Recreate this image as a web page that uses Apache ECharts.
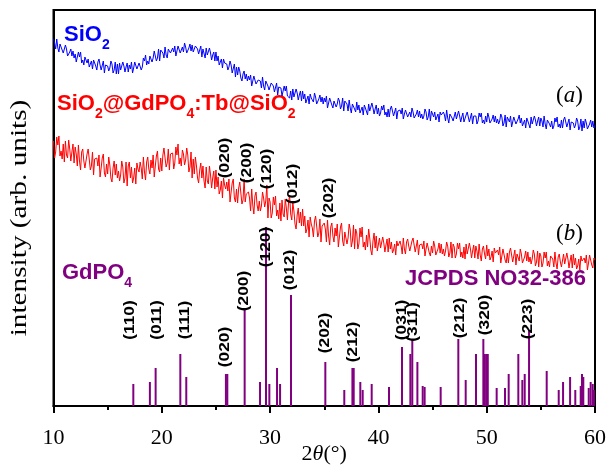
<!DOCTYPE html>
<html>
<head>
<meta charset="utf-8">
<script src="https://cdn.jsdelivr.net/npm/echarts@6/dist/echarts.min.js"></script>
<style>
  html, body { margin: 0; padding: 0; background: #fff; }
  #chart { width: 607px; height: 466px; }
</style>
</head>
<body>
<div id="chart"></div>
<script>
// XRD scans sampled every 0.1° from 10° to 60° (arbitrary intensity units)
const scanStart = 10;
const scanStep = 0.1;

// (a) bare SiO2 spheres
const sio2 = [
  367,363,357,367,358,354,362,363,356,353, // 10
  353,361,357,350,348,354,357,350,355,348, // 11
  352,344,346,354,349,354,343,346,341,349, // 12
  351,343,347,339,340,345,337,346,343,340, // 13
  336,344,347,341,336,338,345,333,341,341, // 14
  340,335,338,345,342,333,336,344,332,342, // 15
  332,343,336,335,344,340,334,339,343,334, // 16
  341,337,344,333,338,344,346,337,335,343, // 17
  343,336,339,348,345,351,341,345,342,350, // 18
  349,344,348,355,353,345,348,357,345,356, // 19
  356,353,348,359,351,348,357,359,353,351, // 20
  358,354,360,350,355,360,362,353,352,359, // 21
  354,363,359,353,351,358,362,355,361,354, // 22
  352,360,362,357,352,354,360,349,357,356, // 23
  348,358,351,349,358,353,346,351,354,345, // 24
  354,345,350,341,342,347,338,347,343,341, // 25
  342,336,339,345,341,333,335,342,329,339, // 26
  331,339,335,328,325,332,335,327,332,325, // 27
  330,326,331,320,325,330,331,322,320,326, // 28
  328,325,318,329,320,316,325,326,320,316, // 29
  315,323,325,320,314,316,323,311,319,318, // 30
  318,310,312,320,315,320,310,312,308,315, // 31
  306,317,309,308,317,313,306,311,315,305, // 32
  315,307,312,303,305,310,302,312,308,306, // 33
  304,313,309,302,300,307,311,304,309,302, // 34
  308,304,310,298,303,308,310,301,298,305, // 35
  304,299,302,308,305,297,300,308,295,305, // 36
  305,302,295,306,298,293,302,304,297,294, // 37
  304,296,301,293,295,299,291,301,298,296, // 38
  291,302,295,294,303,298,292,297,301,292, // 39
  298,290,293,300,296,301,291,294,289,297, // 40
  289,297,300,295,290,291,298,287,295,295, // 41
  296,292,298,287,292,296,298,289,287,294, // 42
  289,298,294,288,286,292,296,289,295,288, // 43
  292,287,290,297,294,286,289,297,285,295, // 44
  297,289,294,286,288,292,284,294,291,289, // 45
  294,291,285,296,288,283,292,294,288,285, // 46
  283,294,287,286,295,290,284,289,293,284, // 47
  283,291,294,289,284,286,293,282,290,290, // 48
  290,282,285,293,289,293,283,286,282,290, // 49
  284,293,289,283,281,287,291,284,290,283, // 50
  287,282,285,292,289,280,283,291,279,289, // 51
  288,284,290,279,284,289,291,282,280,287, // 52
  291,283,288,280,282,286,278,288,285,283, // 53
  278,289,282,281,290,286,280,285,289,280, // 54
  288,285,279,290,282,277,286,288,282,279, // 55
  285,277,280,288,284,289,279,282,278,286, // 56
  278,286,289,284,279,280,287,276,284,284, // 57
  283,278,281,288,285,276,279,287,275,285, // 58
  278,287,283,277,275,282,286,279,285,278, // 59
  281                                      // 60
];

// (b) SiO2@GdPO4:Tb@SiO2 core-shell particles
const coreShell = [
  265,248,254,269,261,270,250,255,247,262, // 10
  244,265,251,248,266,257,245,254,262,243, // 11
  259,252,240,261,245,236,254,257,245,238, // 12
  236,252,257,247,236,240,254,231,247,246, // 13
  248,240,251,229,238,248,252,233,229,242, // 14
  232,249,241,228,224,238,245,231,242,228, // 15
  235,225,231,245,239,223,228,244,220,240, // 16
  244,228,239,223,228,238,222,243,237,234, // 17
  244,238,227,249,234,226,244,249,237,232, // 18
  246,238,251,229,240,250,255,237,234,248, // 19
  235,251,258,248,239,243,257,236,252,253, // 20
  253,237,243,259,251,262,242,248,240,256, // 21
  252,241,246,258,251,234,239,254,228,247, // 22
  232,249,240,228,223,236,243,228,240,225, // 23
  218,239,225,222,240,231,218,228,235,217, // 24
  236,219,229,212,216,225,208,228,221,217, // 25
  224,215,227,204,214,223,227,208,204,217, // 26
  203,218,224,213,202,206,227,204,212,211, // 27
  214,208,195,217,201,192,210,214,201,195, // 28
  205,195,200,214,208,199,205,221,188,208, // 29
  204,188,193,209,201,210,190,196,187,203, // 30
  185,206,192,189,207,198,186,203,211,192, // 31
  186,203,195,182,177,191,198,183,194,180, // 32
  197,180,190,173,177,186,169,189,182,178, // 33
  169,185,190,180,169,173,187,164,180,179, // 34
  183,177,164,186,170,161,179,183,170,164, // 35
  178,170,182,159,169,179,183,165,160,174, // 36
  172,162,168,182,176,159,165,181,157,177, // 37
  173,157,162,178,169,179,159,164,156,171, // 38
  159,177,168,156,151,165,173,158,170,155, // 39
  153,168,158,157,169,163,154,161,167,154, // 40
  168,157,164,153,156,162,151,165,160,158, // 41
  165,160,152,168,157,152,164,167,160,155, // 42
  154,165,168,161,154,156,166,151,161,161, // 43
  162,157,165,150,157,163,165,153,150,160, // 44
  153,165,160,151,149,157,163,153,162,152, // 45
  157,150,155,164,160,149,153,164,148,162, // 46
  159,148,152,163,157,163,149,154,148,159, // 47
  147,162,152,151,163,157,148,155,161,148, // 48
  160,155,147,162,151,145,157,160,152,147, // 49
  161,150,157,146,149,155,144,158,153,151, // 50
  156,151,159,143,150,157,159,146,143,153, // 51
  143,154,158,151,144,146,156,141,152,152, // 52
  145,157,152,143,141,149,155,145,154,144, // 53
  149,142,147,156,152,140,144,155,139,153, // 54
  150,139,143,154,148,154,140,145,139,150, // 55
  152,147,139,154,143,137,149,152,144,139, // 56
  137,152,142,141,153,147,138,145,151,138, // 57
  152,141,148,137,140,147,136,150,145,143, // 58
  148,143,151,136,143,151,153,141,138,148, // 59
  146                                      // 60
];

// GdPO4 reference pattern (JCPDS 32-386): line positions (2θ) and intensities
const refPos = [17.37,18.9,19.43,21.71,22.26,25.92,26.05,27.65,29.07,29.62,29.93,30.64,30.92,31.93,
  35.1,36.85,37.6,37.72,38.33,38.55,39.38,40.98,42.18,42.95,43.13,43.6,44.09,44.27,45.75,47.38,
  48.06,49.01,49.69,49.82,49.96,50.1,50.92,51.69,52.03,52.92,53.29,53.51,53.91,55.54,56.65,57.05,
  57.7,58.18,58.68,58.8,58.92,59.42,59.6,59.79,59.9];
const refInt = [22,24,38,52,29,32,32,96,24,179,22,38,22,111,
  44,16,38,38,24,16,22,19,59,52,67,44,20,19,19,67,
  26,52,67,52,52,52,18,18,32,52,26,32,76,35,16,24,
  29,16,20,32,29,18,24,22,16];

// Miller indices: [text, 2θ, intensity level of the label centre]
const refHkl = [
  ['(110)',17.06,86], ['(011)',19.53,86], ['(111)',22.14,86], ['(020)',25.83,59],
  ['(200)',27.6,115], ['(120)',29.62,159], ['(012)',31.84,136], ['(202)',35.07,73],
  ['(212)',37.68,64], ['(031)',42.15,86], ['(311)',43.22,84], ['(212)',47.53,88],
  ['(320)',49.84,91], ['(223)',53.84,87]
];
const scanHkl = [
  ['(020)',25.83,248], ['(200)',27.84,243], ['(120)',29.69,237],
  ['(012)',32.14,222], ['(202)',35.47,208]
];

const xMin = 10, xMax = 60, xStep = 10;
const yMin = 0, yMax = 396;

const BLUE = '#0000ff', RED = '#ff0000', PURPLE = '#800080';
const SANS = 'Liberation Sans', SERIF = 'Liberation Serif';

const toPoints = arr => arr.map((v, i) => [+(scanStart + i * scanStep).toFixed(1), v]);

// vertical Miller-index labels, placed through the axes
function hklSeries(list) {
  return {
    type: 'custom', coordinateSystem: 'cartesian2d', silent: true, z: 5,
    data: list.map(([, x, y]) => [x, y]),
    encode: { x: 0, y: 1 },
    renderItem: (params, api) => {
      const pt = api.coord([api.value(0), api.value(1)]);
      return {
        type: 'text', x: pt[0], y: pt[1], rotation: Math.PI / 2, scaleX: 1.15,
        style: {
          text: list[params.dataIndex][0],
          font: 'bold 15px "Liberation Sans"',
          align: 'center', verticalAlign: 'middle',
          textAlign: 'center', textVerticalAlign: 'middle',
          fill: '#000'
        }
      };
    }
  };
}

// rich-text styles for formulas with subscripts
function formulaRich(color, size, subSize, subDrop) {
  return {
    m: { fontFamily: SANS, fontWeight: 'bold', fontSize: size, lineHeight: size + 2, verticalAlign: 'top', fill: color, color: color },
    s: { fontFamily: SANS, fontWeight: 'bold', fontSize: subSize, lineHeight: subSize + 2, verticalAlign: 'top', padding: [subDrop, 0, 0, 0], fill: color, color: color }
  };
}
const italicTag = (ch) => ({
  text: '{p|(}{i|' + ch + '}{p|)}',
  rich: {
    p: { fontFamily: SERIF, fontSize: 23, fill: '#000', color: '#000' },
    i: { fontFamily: SERIF, fontSize: 23, fontStyle: 'italic', fill: '#000', color: '#000' }
  }
});

const chart = echarts.init(document.getElementById('chart'), null, { renderer: 'canvas' });

chart.setOption({
  animation: false,
  grid: {
    left: 53.5, right: 12, top: 10, bottom: 60,
    outerBoundsMode: 'none', containLabel: false,
    show: true, borderColor: '#000', borderWidth: 2
  },
  xAxis: {
    type: 'value', min: xMin, max: xMax, interval: xStep,
    axisLine: { lineStyle: { color: '#000', width: 2 } },
    axisTick: { length: 7, lineStyle: { color: '#000', width: 2 } },
    minorTick: { show: true, splitNumber: 2, length: 4, lineStyle: { color: '#000', width: 2 } },
    splitLine: { show: false },
    axisLabel: { color: '#000', fontFamily: SERIF, fontSize: 22, margin: 21 },
    name: '{n|2}{t|θ}{n|(°)}',
    nameLocation: 'middle', nameGap: 37, nameMoveOverlap: false,
    nameTextStyle: {
      rich: {
        n: { fontFamily: SERIF, fontSize: 22, color: '#000' },
        t: { fontFamily: SERIF, fontSize: 22, fontStyle: 'italic', color: '#000' }
      }
    }
  },
  yAxis: {
    type: 'value', min: yMin, max: yMax,
    axisLine: { show: true, lineStyle: { color: '#000', width: 2 } },
    axisTick: { show: false }, axisLabel: { show: false }, splitLine: { show: false }
  },
  series: [
    {
      name: 'SiO2', type: 'line', data: toPoints(sio2), showSymbol: false, symbol: 'none',
      lineStyle: { color: BLUE, width: 1 }, silent: true, z: 3
    },
    {
      name: 'core-shell', type: 'line', data: toPoints(coreShell), showSymbol: false, symbol: 'none',
      lineStyle: { color: RED, width: 1 }, silent: true, z: 3
    },
    {
      name: 'GdPO4', type: 'bar', data: refPos.map((p, i) => [p, refInt[i]]),
      barWidth: 2, itemStyle: { color: PURPLE }, silent: true, z: 2
    },
    hklSeries(refHkl),
    hklSeries(scanHkl)
  ],
  graphic: [
    { type: 'text', x: 20, y: 218, rotation: Math.PI / 2, scaleX: 1.22, silent: true,
      style: { text: 'intensity (arb. units)', font: '24px "Liberation Serif"',
        align: 'center', verticalAlign: 'middle', textAlign: 'center', textVerticalAlign: 'middle', fill: '#000' } },
    { type: 'text', left: 64, top: 24, silent: true,
      style: { text: '{m|SiO}{s|2}', rich: formulaRich(BLUE, 22, 14, 14) } },
    { type: 'text', left: 57, top: 93, silent: true,
      style: { text: '{m|SiO}{s|2}{m|@GdPO}{s|4}{m|:Tb@SiO}{s|2}', rich: formulaRich(RED, 22, 14, 14) } },
    { type: 'text', left: 62, top: 262, silent: true,
      style: { text: '{m|GdPO}{s|4}', rich: formulaRich(PURPLE, 22, 14, 14) } },
    { type: 'text', left: 405, top: 268, silent: true,
      style: { text: 'JCPDS NO32-386', fill: PURPLE, font: 'bold 22px "Liberation Sans"' } },
    { type: 'text', left: 556, top: 84, silent: true, style: italicTag('a') },
    { type: 'text', left: 556, top: 222, silent: true, style: italicTag('b') }
  ]
});
</script>
</body>
</html>
